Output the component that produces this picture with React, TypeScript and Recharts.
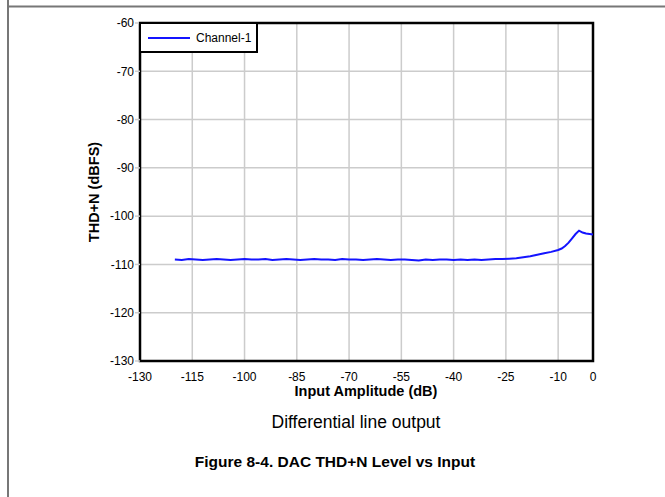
import React from "react";
import {
  LineChart,
  Line,
  XAxis,
  YAxis,
  CartesianGrid,
  ReferenceArea,
} from "recharts";

const inputDb: number[] = [
  -120, -118, -116, -114, -112, -110, -108, -106, -104, -102, -100, -98, -96, -94, -92, -90,
  -88, -86, -84, -82, -80, -78, -76, -74, -72, -70, -68, -66, -64, -62, -60, -58, -56, -54,
  -52, -50, -48, -46, -44, -42, -40, -38, -36, -34, -32, -30, -28, -26, -24, -22, -20, -18,
  -16, -14, -12, -10, -9, -8, -7, -6, -5, -4, -3, -2, -1, 0,
];
const thdN: number[] = [
  -109.0, -109.1, -108.9, -109.0, -109.1, -109.0, -108.9, -109.0, -109.1, -109.0, -108.9, -109.0,
  -109.0, -108.9, -109.1, -109.0, -108.9, -109.0, -109.1, -109.0, -108.9, -109.0, -109.0, -109.1,
  -108.9, -109.0, -109.0, -109.1, -109.0, -108.9, -109.0, -109.1, -109.0, -109.0, -109.1, -109.2,
  -109.0, -109.1, -109.0, -109.0, -109.1, -109.0, -109.1, -109.0, -109.1, -109.0, -108.9, -108.9,
  -108.8, -108.7, -108.5, -108.3, -108.0, -107.7, -107.4, -107.0, -106.7, -106.2, -105.5, -104.6,
  -103.7, -103.0, -103.4, -103.6, -103.7, -103.8,
];

const xTicks: number[] = [-130, -115, -100, -85, -70, -55, -40, -25, -10, 0];
const yTicks: number[] = [-130, -120, -110, -100, -90, -80, -70, -60];

const seriesName = "Channel-1";
const xTitle = "Input Amplitude (dB)";
const yTitle = "THD+N (dBFS)";
const subCaption = "Differential line output";
const figCaption = "Figure 8-4. DAC THD+N Level vs Input";

const data = inputDb.map((x, i) => ({ x, y: thdN[i] }));

const FONT = "'Liberation Sans', Arial, sans-serif";
const BLUE = "#1414ff";

const LegendBox = () => (
  <div
    style={{
      position: "absolute",
      left: 139,
      top: 22,
      width: 115,
      height: 27,
      border: "2px solid #000",
      background: "#fff",
      display: "flex",
      alignItems: "center",
      fontFamily: FONT,
      fontSize: 12,
      color: "#000",
      boxSizing: "content-box",
    }}
  >
    <svg width={55} height={10} style={{ display: "block" }}>
      <line x1={7} y1={5} x2={49} y2={5} stroke={BLUE} strokeWidth={2} />
    </svg>
    <span>{seriesName}</span>
  </div>
);

export default function App() {
  return (
    <div
      style={{
        position: "absolute",
        left: 0,
        top: 0,
        width: 665,
        height: 497,
        background: "#fff",
        fontFamily: FONT,
        overflow: "hidden",
      }}
    >
      <style>{"html,body{margin:0;padding:0;overflow:hidden;}"}</style>
      <LineChart
        width={665}
        height={497}
        data={data}
        margin={{ top: 23, right: 72, bottom: 106, left: 0 }}
      >
        <CartesianGrid stroke="#cccccc" strokeWidth={1.5} />
        <XAxis
          dataKey="x"
          type="number"
          domain={[-130, 0]}
          ticks={xTicks}
          interval={0}
          height={30}
          axisLine={false}
          tickLine={false}
          tickSize={8}
          tickMargin={3}
          tick={{ fontSize: 12, fill: "#000", fontFamily: FONT }}
        />
        <YAxis
          type="number"
          domain={[-130, -60]}
          ticks={yTicks}
          interval={0}
          width={140}
          axisLine={false}
          tickLine={{ stroke: "#cccccc", strokeWidth: 1.5 }}
          tickSize={5}
          tickMargin={1}
          tick={{ fontSize: 12, fill: "#000", fontFamily: FONT }}
        />
        <Line
          type="linear"
          dataKey="y"
          name={seriesName}
          stroke={BLUE}
          strokeWidth={2}
          dot={false}
          isAnimationActive={false}
        />
        <ReferenceArea
          x1={-130}
          x2={0}
          y1={-130}
          y2={-60}
          fill="none"
          fillOpacity={0}
          stroke="#000"
          strokeWidth={2.5}
          ifOverflow="visible"
        />
      </LineChart>
      <LegendBox />
      <svg
        width={665}
        height={497}
        style={{ position: "absolute", left: 0, top: 0, pointerEvents: "none" }}
      >
        <line x1={8} y1={0} x2={8} y2={497} stroke="#777" strokeWidth={2} />
        <line x1={8} y1={6.5} x2={665} y2={6.5} stroke="#777" strokeWidth={2} />
        <text
          x={94}
          y={192}
          transform="rotate(-90 94 192)"
          textAnchor="middle"
          dominantBaseline="central"
          fontFamily={FONT}
          fontWeight="bold"
          fontSize={14.5}
          fill="#000"
        >
          {yTitle}
        </text>
        <text
          x={366}
          y={391}
          textAnchor="middle"
          dominantBaseline="central"
          fontFamily={FONT}
          fontWeight="bold"
          fontSize={14.5}
          fill="#000"
        >
          {xTitle}
        </text>
        <text
          x={356}
          y={422}
          textAnchor="middle"
          dominantBaseline="central"
          fontFamily={FONT}
          fontSize={17.5}
          fill="#000"
        >
          {subCaption}
        </text>
        <text
          x={335}
          y={461}
          textAnchor="middle"
          dominantBaseline="central"
          fontFamily={FONT}
          fontWeight="bold"
          fontSize={15.5}
          fill="#000"
        >
          {figCaption}
        </text>
      </svg>
    </div>
  );
}
